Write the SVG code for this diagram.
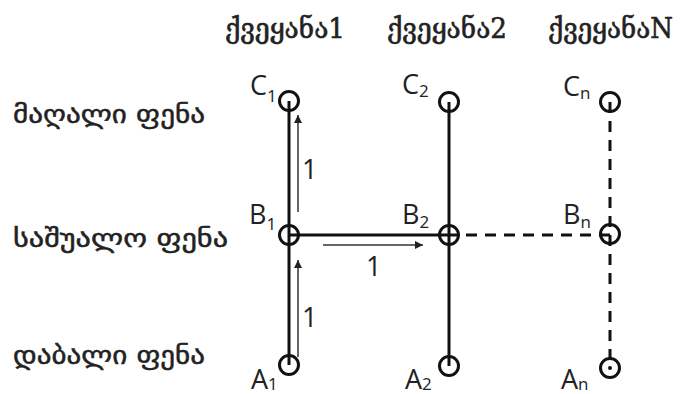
<svg xmlns="http://www.w3.org/2000/svg" width="680" height="394" viewBox="0 0 680 394">
<style>
.hdr{font-family:"DejaVu Serif","DejaVu Sans",serif;font-size:28px;fill:#222;stroke:#222;stroke-width:0.6}
.row{font-family:"DejaVu Sans",sans-serif;font-size:26px;fill:#222;stroke:#222;stroke-width:0.5}
.lbl{font-family:"Open Sans","Liberation Sans",sans-serif;font-size:27px;fill:#222}
.sub{font-size:17px}
.node{fill:none;stroke:#111;stroke-width:3}
.solid{stroke:#111;stroke-width:3;fill:none}
.dash{stroke:#111;stroke-width:3;fill:none;stroke-dasharray:11 8}
.thin{stroke:#333;stroke-width:1.5;fill:none;marker-end:url(#ah)}
.num{font-family:"Open Sans","Liberation Sans",sans-serif;font-size:27px;fill:#222}
</style>
<defs>
<marker id="ah" viewBox="0 0 10 10" refX="10" refY="5" markerWidth="8" markerHeight="8" markerUnits="userSpaceOnUse" orient="auto">
<path d="M0,0 L10,5 L0,10 z" fill="#222"/>
</marker>
</defs>
<rect width="680" height="394" fill="#fff"/>
<g id="headers">
<text class="hdr" x="225" y="38" textLength="120" lengthAdjust="spacingAndGlyphs">ქვეყანა1</text>
<text class="hdr" x="387" y="38" textLength="120" lengthAdjust="spacingAndGlyphs">ქვეყანა2</text>
<text class="hdr" x="548" y="38" textLength="125" lengthAdjust="spacingAndGlyphs">ქვეყანაN</text>
</g>
<g id="rows">
<text class="row" x="13" y="123" textLength="192" lengthAdjust="spacingAndGlyphs">მაღალი ფენა</text>
<text class="row" x="13" y="247" textLength="215" lengthAdjust="spacingAndGlyphs">საშუალო ფენა</text>
<text class="row" x="13" y="364" textLength="192" lengthAdjust="spacingAndGlyphs">დაბალი ფენა</text>
</g>
<g id="connectors">
<line class="solid" x1="289" y1="101" x2="289" y2="365"/>
<line class="solid" x1="449" y1="102" x2="449" y2="366"/>
<line class="solid" x1="289" y1="235" x2="459" y2="235"/>
<line class="dash" x1="466" y1="235" x2="610" y2="235"/>
<line class="dash" x1="610" y1="102" x2="610" y2="368"/>
<line class="thin" x1="298" y1="212" x2="298" y2="115"/>
<line class="thin" x1="298" y1="357" x2="298" y2="260"/>
<line class="thin" x1="323" y1="245" x2="423" y2="245"/>
<text class="num" x="302" y="179">1</text>
<text class="num" x="302" y="327">1</text>
<text class="num" x="366" y="276">1</text>
</g>
<g id="C1"><circle class="node" cx="289" cy="101" r="9.5"/><text class="lbl" x="250" y="95">C<tspan class="sub" dy="7">1</tspan></text></g>
<g id="B1"><circle class="node" cx="289" cy="235" r="9.5"/><text class="lbl" x="249" y="224">B<tspan class="sub" dy="6">1</tspan></text></g>
<g id="A1"><circle class="node" cx="289" cy="365" r="9.5"/><text class="lbl" x="251" y="389">A<tspan class="sub" dy="1">1</tspan></text></g>
<g id="C2"><circle class="node" cx="449" cy="102" r="9.5"/><text class="lbl" x="402" y="94">C<tspan class="sub" dy="3">2</tspan></text></g>
<g id="B2"><circle class="node" cx="449" cy="235" r="9.5"/><text class="lbl" x="402" y="224">B<tspan class="sub" dy="4">2</tspan></text></g>
<g id="A2"><circle class="node" cx="449" cy="366" r="9.5"/><text class="lbl" x="405" y="389">A<tspan class="sub" dy="1">2</tspan></text></g>
<g id="Cn"><circle class="node" cx="610" cy="102" r="9.5"/><text class="lbl" x="563" y="96">C<tspan class="sub" dy="3">n</tspan></text></g>
<g id="Bn"><circle class="node" cx="610" cy="234" r="9.5"/><text class="lbl" x="563" y="224">B<tspan class="sub" dy="4">n</tspan></text></g>
<g id="An"><circle class="node" cx="610" cy="368" r="9.5"/><circle cx="610" cy="368" r="2" fill="#111"/><text class="lbl" x="561" y="389">A<tspan class="sub" dy="1">n</tspan></text></g>
</svg>
